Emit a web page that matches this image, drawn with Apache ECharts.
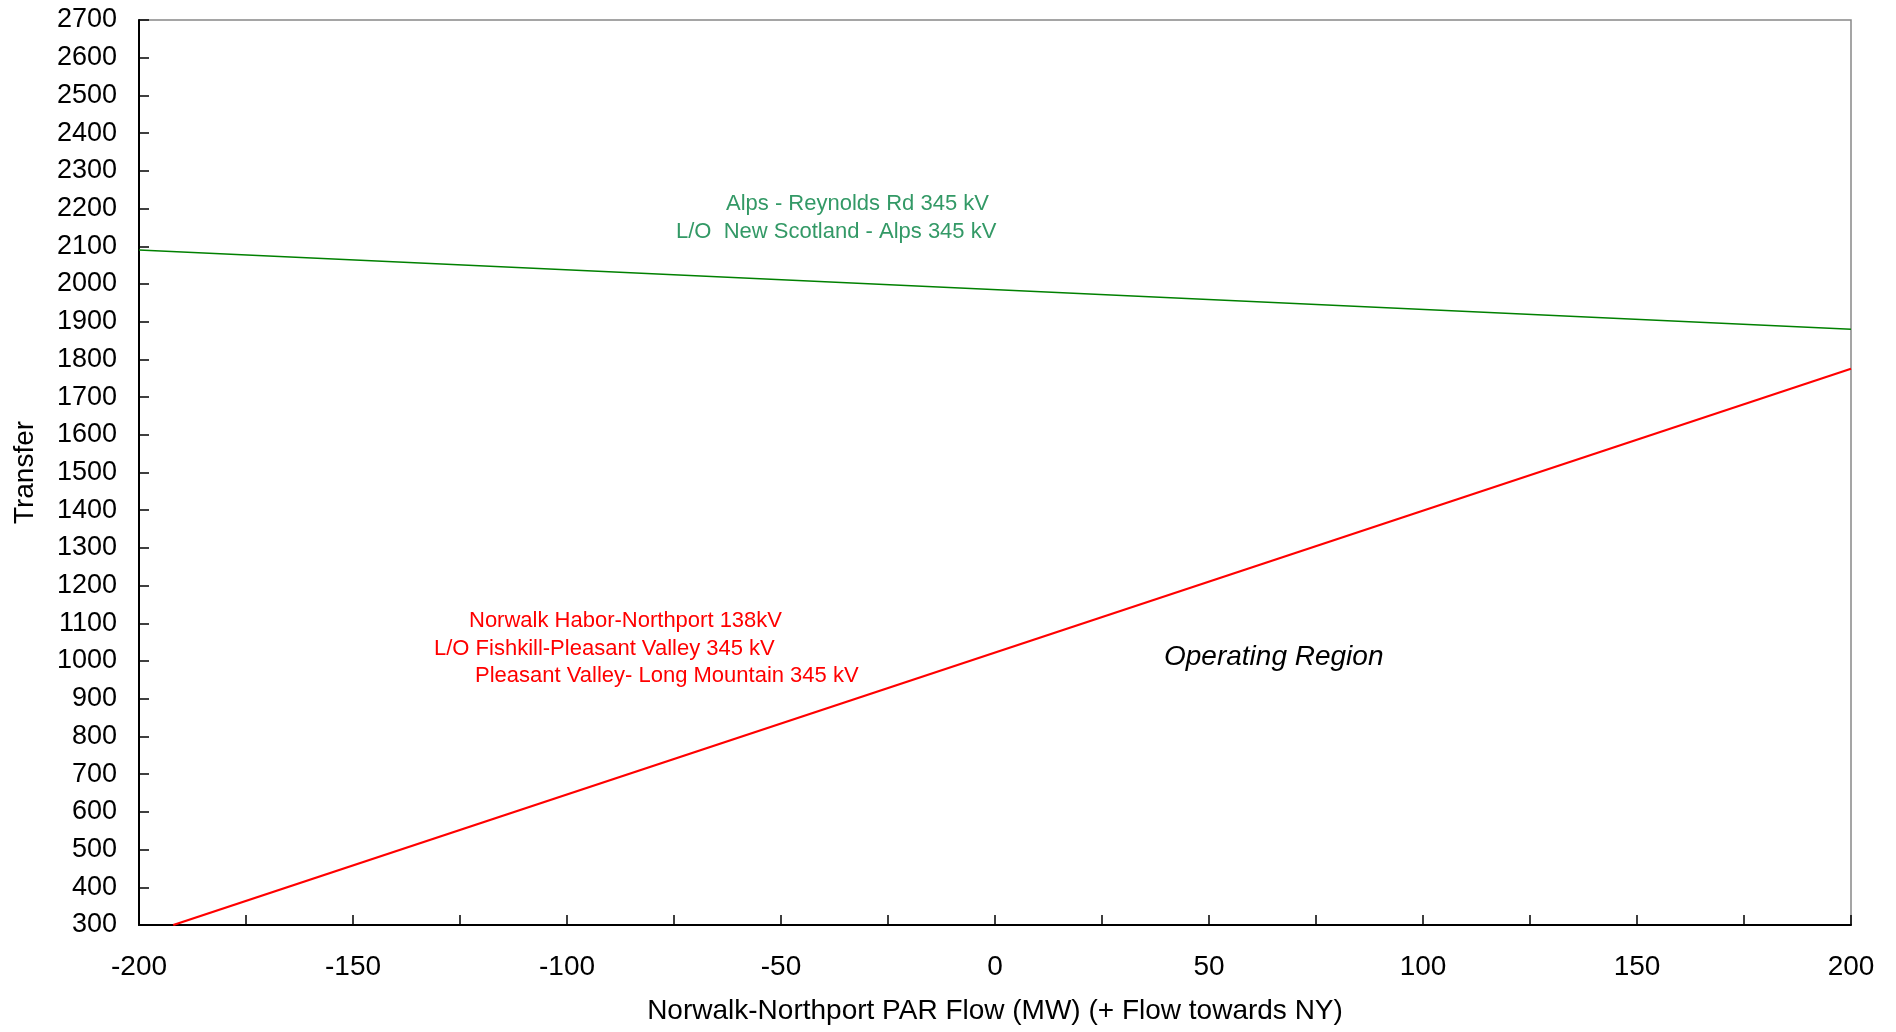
<!DOCTYPE html>
<html><head><meta charset="utf-8">
<script src="https://cdn.jsdelivr.net/npm/echarts@6/dist/echarts.min.js"></script>
<style>html,body{margin:0;padding:0;background:#fff}#c{width:1896px;height:1032px}</style>
</head><body><div id="c"></div>
<script>
const greenLine = [[-200, 2090], [200, 1880]];
const redLine = [[-192, 300], [200, 1775]];
const xTicks = {min: -200, max: 200, interval: 25, labelStep: 50};
const yTicks = {min: 300, max: 2700, interval: 100};
const greenLabel = ['Alps - Reynolds Rd 345 kV', 'L/O  New Scotland - Alps 345 kV'];
const redLabel = ['Norwalk Habor-Northport 138kV', 'L/O Fishkill-Pleasant Valley 345 kV', 'Pleasant Valley- Long Mountain 345 kV'];
const regionLabel = 'Operating Region';
const xTitle = 'Norwalk-Northport PAR Flow (MW) (+ Flow towards NY)';
const yTitle = 'Transfer';

const FONT = 'Liberation Sans, Arial, sans-serif';
const chart = echarts.init(document.getElementById('c'));
chart.setOption({
  animation: false,
  backgroundColor: '#fff',
  grid: {left: 139, top: 20, right: 45, height: 905, show: true, borderColor: '#888', borderWidth: 1.5},
  xAxis: {
    type: 'value', min: xTicks.min, max: xTicks.max, interval: xTicks.interval,
    name: xTitle, nameLocation: 'middle', nameGap: 72,
    nameTextStyle: {fontFamily: FONT, fontSize: 28, color: '#000'},
    axisLine: {show: true, onZero: false, lineStyle: {color: '#000', width: 2}},
    axisTick: {show: true, inside: true, length: 10, lineStyle: {color: '#000', width: 1.5}},
    axisLabel: {fontFamily: FONT, fontSize: 28, color: '#000', margin: 28,
      formatter: v => (v % xTicks.labelStep === 0 ? String(v) : '')},
    splitLine: {show: false}
  },
  yAxis: {
    type: 'value', min: yTicks.min, max: yTicks.max, interval: yTicks.interval,
    name: yTitle, nameLocation: 'middle', nameGap: 100,
    nameTextStyle: {fontFamily: FONT, fontSize: 28, color: '#000'},
    axisLine: {show: true, onZero: false, lineStyle: {color: '#000', width: 2}},
    axisTick: {show: true, inside: true, length: 10, lineStyle: {color: '#000', width: 1.5}},
    axisLabel: {fontFamily: FONT, fontSize: 27, color: '#000', margin: 22, formatter: v => String(v)},
    splitLine: {show: false}
  },
  series: [
    {type: 'line', data: greenLine, symbol: 'none', lineStyle: {color: '#008000', width: 1.5}},
    {type: 'line', data: redLine, symbol: 'none', lineStyle: {color: '#ff0000', width: 2.2}}
  ],
  graphic: [
    {type: 'text', left: 726, top: 193, style: {text: greenLabel[0], fontFamily: FONT, fontSize: 22, fill: '#339966'}},
    {type: 'text', left: 676, top: 221, style: {text: greenLabel[1], fontFamily: FONT, fontSize: 22, fill: '#339966'}},
    {type: 'text', left: 469, top: 610, style: {text: redLabel[0], fontFamily: FONT, fontSize: 22, fill: '#ff0000'}},
    {type: 'text', left: 434, top: 638, style: {text: redLabel[1], fontFamily: FONT, fontSize: 22, fill: '#ff0000'}},
    {type: 'text', left: 475, top: 665, style: {text: redLabel[2], fontFamily: FONT, fontSize: 22, fill: '#ff0000'}},
    {type: 'text', left: 1164, top: 643, style: {text: regionLabel, fontFamily: FONT, fontSize: 28, fontStyle: 'italic', fill: '#000'}}
  ]
});
</script></body></html>
